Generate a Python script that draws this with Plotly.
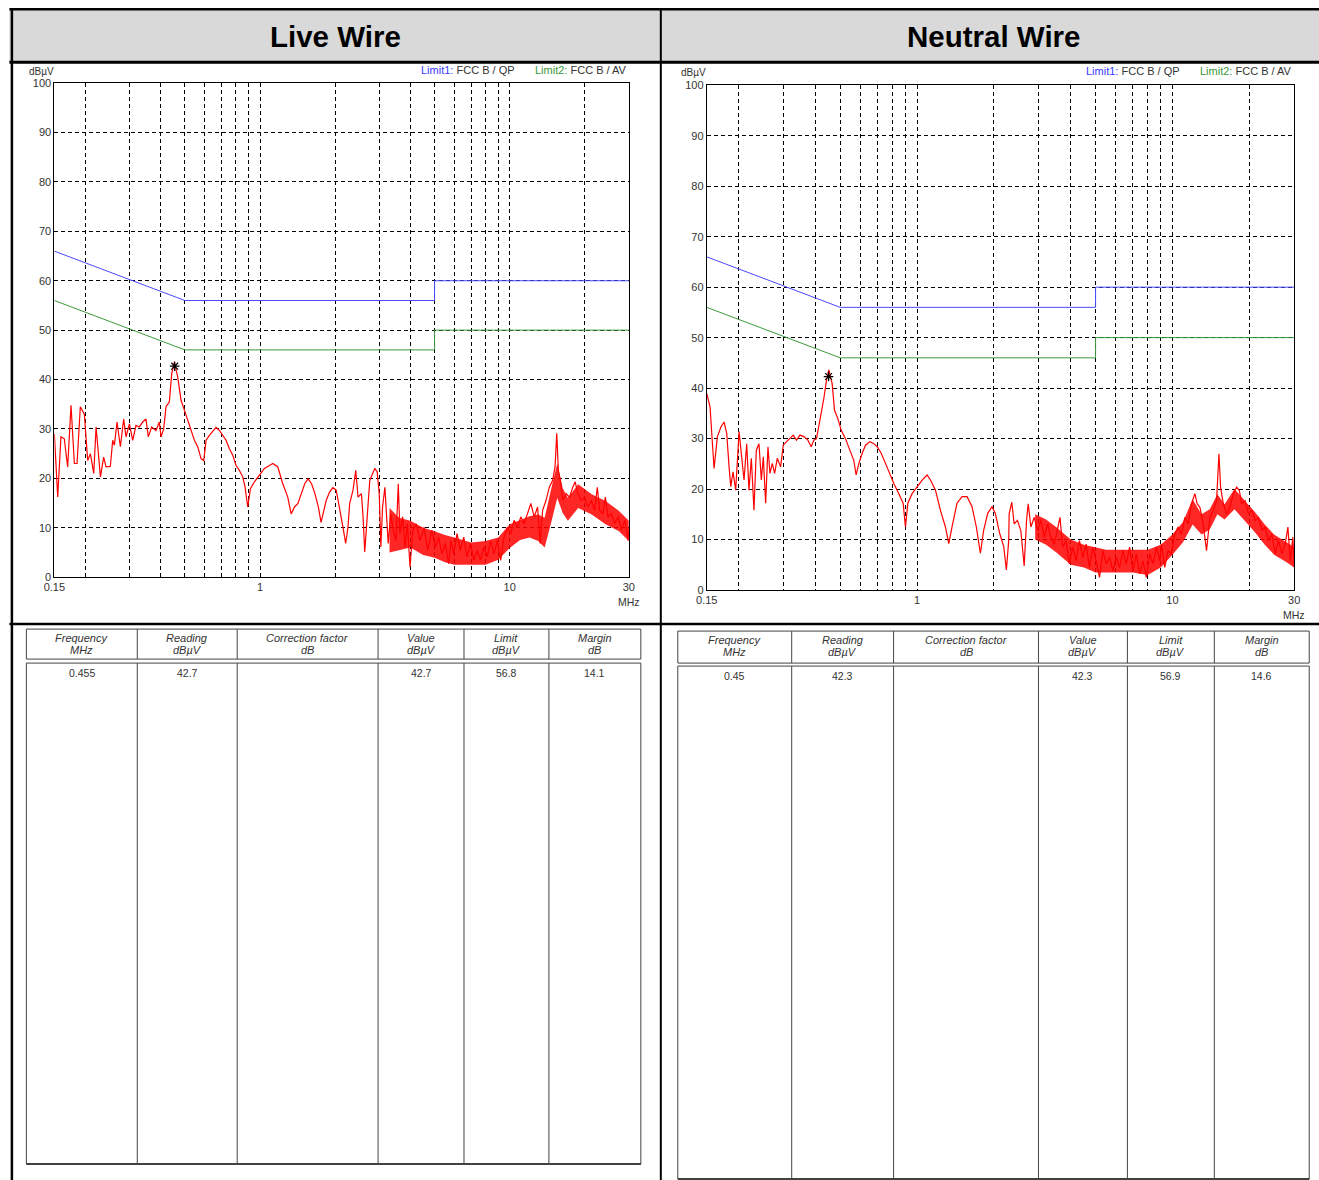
import math
import plotly.graph_objects as go

# ---------------- data ----------------
x_tick_vals = [0.15, 1, 10, 30]
x_tick_text = ["0.15", "1", "10", "30"]
x_grid_vals = [0.2, 0.3, 0.4, 0.5, 0.6, 0.7, 0.8, 0.9, 1, 2, 3, 4, 5, 6, 7, 8, 9, 10, 20]

limit_freq = [0.15, 0.5, 5, 5, 30]
limit_qp = [66, 56, 56, 60, 60]
limit_av = [56, 46, 46, 50, 50]

live_freq = [
    0.150, 0.1547, 0.1594, 0.1644, 0.1696, 0.1749, 0.1804, 0.1849, 0.1906, 0.1978,
    0.2040, 0.2091, 0.2157, 0.2204, 0.2294, 0.2364, 0.2415, 0.2514, 0.2569, 0.2609,
    0.2674, 0.2757, 0.2843, 0.2905, 0.2996, 0.3089, 0.3185, 0.3284, 0.3387, 0.3492,
    0.3568, 0.3680, 0.3830, 0.3950, 0.4012, 0.4111, 0.4201, 0.4332, 0.4427, 0.4537,
    0.4680, 0.4826, 0.4977, 0.5131, 0.5292, 0.5457, 0.5627, 0.5803, 0.5948, 0.6078,
    0.6268, 0.6464, 0.6665, 0.6873, 0.7087, 0.7309, 0.7536, 0.7772, 0.8014, 0.8265,
    0.8523, 0.8709, 0.8926, 0.9150, 0.9495, 0.9942, 1.041, 1.090, 1.125, 1.178,
    1.233, 1.291, 1.332, 1.374, 1.418, 1.463, 1.510, 1.558, 1.608, 1.659,
    1.712, 1.755,
    1.784, 1.840, 1.898, 1.957, 2.019, 2.082, 2.148, 2.202, 2.250, 2.285,
    2.357, 2.416, 2.469, 2.546, 2.586, 2.626, 2.684, 2.751, 2.820, 2.882,
    2.945, 3.001, 3.047, 3.095, 3.162, 3.211, 3.261, 3.333, 3.416, 3.502,
    3.578, 3.634, 3.725, 3.807, 3.890, 3.988, 4.089, 4.217, 4.376, 4.543,
    4.685, 4.880, 5.033, 5.190, 5.353, 5.520, 5.692, 5.817, 5.963, 6.152,
    6.344, 6.544, 6.749, 6.962, 7.180, 7.406, 7.640, 7.880, 8.126, 8.385,
    8.647, 8.918, 9.199, 9.488, 9.786, 10.09, 10.41, 10.74, 11.08, 11.42,
    11.78, 12.15, 12.54, 12.93, 13.25, 13.54, 13.97, 14.41, 14.86, 15.19,
    15.43, 15.66, 15.96, 16.31, 16.82, 17.35, 17.89, 18.29, 18.74, 19.33,
    19.94, 20.57, 21.22, 21.88, 22.43, 22.92, 23.64, 24.16, 24.76, 25.55,
    26.35, 27.18, 28.03, 28.91, 29.82, 30.0,
]
live_level = [
    29, 16.2, 28.4, 28, 22.3, 34.8, 23, 23, 34.5, 33,
    23.6, 25, 21, 30.4, 20.3, 24.3, 22.3, 22.4, 27.7, 26.7,
    31.4, 26.4, 32, 28.4, 31, 27.7, 30.7, 30.4, 31.4, 32,
    28.4, 30.4, 29.7, 31.4, 28.4, 30, 34.5, 35.5, 41.2, 43.6,
    40.5, 35.8, 33.8, 31.8, 29.4, 27.7, 26.4, 24, 23.6, 27.7,
    28.7, 29.4, 30.3, 29.7, 28.7, 27.7, 26, 24.7, 22.6, 21.6,
    20.3, 18.2, 14.2, 17.9, 19.3, 20.6, 22, 22.6, 23, 22.3,
    18.9, 16.2, 12.8, 14.2, 14.9, 16.9, 18.9, 19.9, 18.9, 16.9,
    14.2, 11.1,
    12.8, 15.5, 17.2, 18.1, 17.6, 14.2, 10.1, 6.8, 10.1, 14.9,
    17.6, 21.6, 16.2, 16.9, 12.2, 5.1, 12.8, 19.6, 20.9, 22,
    21.3, 16.9, 6.1, 14.2, 18.2, 12.2, 6.8, 12.8, 9.5, 7.4,
    18.9, 8.8, 12.2, 6.1, 10.8, 2, 9.5, 10.8, 7.4, 10.1,
    5.4, 9.5, 6.1, 8.1, 4.7, 6.8, 2.7, 7.4, 4.7, 8.8,
    5.4, 8.1, 4.1, 6.8, 3.4, 5.4, 3.4, 6.1, 4.1, 7.4,
    4.7, 7.4, 3.4, 8.1, 10.1, 8.8, 11.5, 10.1, 12.2, 10.8,
    12.8, 14.9, 12.2, 14.2, 6.8, 13.5, 15.5, 18.2, 19.6, 22.3,
    29.1, 21.6, 19.6, 15.5, 16.9, 16.2, 18.2, 19.3, 16.9, 15.5,
    16.2, 14.2, 15.5, 13.5, 18.2, 13.5, 12.8, 16.2, 12.2, 12.8,
    10.8, 12.2, 9.5, 11.5, 7.4, 10,
]
# dense-noise envelope of the live trace (upper / lower edge of the red band)
live_band_freq = [3.3, 3.6, 4.0, 4.5, 5.0, 5.5, 6.0, 7.0, 8.0, 9.0, 10, 11, 12, 13,
                  13.8, 14.6, 15.5, 16.3, 17.1, 18.8, 21.3, 24.2, 27.4, 30]
live_band_hi = [14, 12, 11.4, 10, 9.3, 8.5, 8, 7, 7.3, 8, 10.7, 11.5, 12.3, 12.7,
                12, 17.5, 23, 18, 16, 18.8, 16.8, 15.4, 13.4, 11.4]
live_band_lo = [5, 5.5, 6, 4.5, 3.9, 3, 2.5, 2.5, 2.5, 3.5, 5.9, 7.5, 8, 7.3,
                6, 10.7, 16, 13, 11.4, 14, 12.7, 10.7, 9.3, 7.3]

neutral_freq = [
    0.150, 0.1545, 0.1569, 0.1602, 0.1651, 0.1704, 0.1753, 0.1796, 0.1834, 0.1862,
    0.1901, 0.1947, 0.2007, 0.2049, 0.2099, 0.2150, 0.2195, 0.2242, 0.2296, 0.2345,
    0.2402, 0.2453, 0.2498, 0.2551, 0.2605, 0.2652, 0.2708, 0.2766, 0.2833, 0.2919,
    0.2990, 0.3081, 0.3175, 0.3271, 0.3371, 0.3473, 0.3601, 0.3733, 0.3847, 0.3940,
    0.4036, 0.4184, 0.4312, 0.4417, 0.4510, 0.4648, 0.4747, 0.4891, 0.5040, 0.5240,
    0.5448, 0.5648, 0.5768, 0.5914, 0.6094, 0.6279, 0.6530, 0.6769, 0.6976, 0.7232,
    0.7519, 0.7818, 0.8105, 0.8478, 0.8815, 0.9002, 0.9193, 0.9558, 1.000, 1.046,
    1.094, 1.128, 1.180, 1.234, 1.291, 1.330, 1.370, 1.433, 1.500, 1.569,
    1.641, 1.706, 1.769, 1.823, 1.890, 1.965, 2.025, 2.106, 2.184, 2.237,
    2.285,
    2.293, 2.349, 2.399, 2.472, 2.548, 2.626, 2.683, 2.723, 2.790, 2.875,
    2.963, 3.054, 3.148, 3.244, 3.344, 3.446, 3.552, 3.627, 3.716, 3.830,
    3.947, 4.068, 4.193, 4.322, 4.455, 4.591, 4.732, 4.877, 5.027, 5.181,
    5.339, 5.502, 5.672, 5.844, 6.023, 6.208, 6.398, 6.594, 6.796, 7.004,
    7.222, 7.439, 7.668, 7.902, 8.145, 8.395, 8.653, 8.917, 9.053, 9.330,
    9.616, 9.910, 10.21, 10.53, 10.85, 11.18, 11.52, 11.88, 12.24, 12.50,
    12.81, 13.20, 13.60, 14.02, 14.45, 14.89, 15.21, 15.44, 15.82, 16.31,
    16.80, 17.32, 17.85, 18.29, 18.68, 19.25, 19.84, 20.45, 21.08, 21.72,
    22.39, 23.07, 23.78, 24.51, 25.26, 26.03, 26.83, 27.65, 28.33, 28.93,
    29.63, 30.0,
]
neutral_level = [
    38.9, 36.3, 31, 24.1, 30.4, 32.3, 33.3, 31, 24.4, 20.5,
    23.4, 19.8, 31.4, 26.4, 21.8, 29, 19.8, 26.1, 15.8, 27.7,
    29, 21.8, 26.4, 17.2, 28.4, 23.1, 25.1, 23.1, 26.1, 24.4,
    28.7, 29.4, 30, 30.7, 29.7, 30.7, 30.4, 29.7, 28.4, 29.7,
    30, 34.3, 38, 41.6, 43.6, 40.9, 35.6, 34, 31.7, 30,
    27.7, 25.7, 22.8, 25.1, 27.1, 28.7, 29.4, 29, 28.4, 27.1,
    25.1, 22.8, 21.1, 19.1, 17.2, 12.5, 17.2, 19.1, 20.5, 21.8,
    22.8, 21.8, 19.8, 15.8, 12.5, 9.2, 12.5, 17.2, 18.5, 18.5,
    16.5, 12.5, 7.3, 11.9, 15.2, 16.5, 15.2, 11.2, 8.6, 4,
    9.9,
    15.1, 17.4, 13.1, 13.8, 11.8, 4.8, 13.8, 17.1, 12.5, 14.4,
    11.8, 13.8, 10.5, 13.1, 10.5, 9.1, 12.5, 14.4, 8.5, 9.8,
    5.2, 8.5, 5.8, 9.8, 6.5, 9.1, 4.5, 8.5, 5.8, 2.5,
    7.8, 5.2, 6.5, 3.8, 6.5, 4.5, 7.8, 5.2, 8.5, 3.8,
    7.2, 3.2, 5.8, 2.5, 7.2, 5.2, 8.5, 5.8, 9.1, 4.5,
    7.8, 7.2, 11.1, 12.5, 11.1, 14.4, 13.1, 17.1, 19.1, 17.1,
    16.4, 13.1, 7.8, 14.4, 15.8, 17.7, 27, 20.4, 17.1, 15.1,
    16.4, 19.1, 20.4, 19.7, 17.1, 17.7, 15.1, 15.8, 13.8, 14.4,
    11.8, 12.5, 9.8, 11.1, 7.2, 9.8, 7.2, 9.1, 12.5, 5.8,
    10.5, 4.5,
]
# dense-noise envelope of the neutral trace
neutral_band_freq = [2.9, 3.2, 3.5, 4.0, 4.5, 5.0, 5.5, 6.0, 7.0, 8.0, 9.0, 10,
                     11, 12, 13, 14, 15, 16, 17.5, 19, 21, 23, 25, 28, 30]
neutral_band_hi = [15, 14, 12.5, 10, 9, 8.5, 8, 8, 8, 8, 9, 11,
                   13.5, 18, 15, 16, 19, 17, 20, 18, 15.5, 13, 11, 9.5, 8.5]
neutral_band_lo = [10, 9, 7.5, 5, 4.5, 3.5, 3.5, 3.5, 3.5, 3, 4.5, 7,
                   9.5, 13, 11, 12, 15, 14, 16, 14, 11.5, 9, 7, 5.5, 4.5]

live_peak_freq = [0.455]
live_peak_level = [42.7]
neutral_peak_freq = [0.45]
neutral_peak_level = [42.3]

table_headers = [
    ("Frequency", "MHz"), ("Reading", "dBµV"), ("Correction factor", "dB"),
    ("Value", "dBµV"), ("Limit", "dBµV"), ("Margin", "dB"),
]
live_row = ["0.455", "42.7", "", "42.7", "56.8", "14.1"]
neutral_row = ["0.45", "42.3", "", "42.3", "56.9", "14.6"]

panel_titles = ["Live Wire", "Neutral Wire"]

# ---------------- layout helpers ----------------
W, H = 1319, 1180
FONT = "Liberation Sans, Arial, sans-serif"
# the photographed page is padded/scaled slightly; positions below are given in
# picture pixels and mapped back to figure pixels here
OX, SX = 9.6, 0.988
OY, SY = 5.8, 0.99


def X(px):
    return ((px - OX) / SX) / W


def Y(py):
    return 1 - ((py - OY) / SY) / H


shapes = []
annotations = []


def line(x0, y0, x1, y1, color="black", width=1):
    shapes.append(dict(type="line", xref="paper", yref="paper",
                       x0=X(x0), y0=Y(y0), x1=X(x1), y1=Y(y1),
                       line=dict(color=color, width=width)))


def rect(x0, y0, x1, y1, color="black", width=1, fill=None):
    d = dict(type="rect", xref="paper", yref="paper",
             x0=X(x0), y0=Y(y0), x1=X(x1), y1=Y(y1),
             line=dict(color=color, width=width), layer="below")
    if fill:
        d["fillcolor"] = fill
    shapes.append(d)


def text(px, py, s, size=10, color="#222", xanchor="center", yanchor="middle"):
    annotations.append(dict(xref="paper", yref="paper", x=X(px), y=Y(py), text=s,
                            showarrow=False, xanchor=xanchor, yanchor=yanchor,
                            font=dict(family=FONT, size=size, color=color)))


# frame
rect(8, 9, 1330, 62, color="black", width=0, fill="#d9d9d9")
line(8, 9, 1330, 9, width=2.5)
line(8, 62, 1330, 62, width=3)
line(8, 624, 1330, 624, width=2.5)
line(10.5, 9, 10.5, 1190, width=2.5)
line(660, 9, 660, 1190, width=2)
text(334, 36, "<b>%s</b>" % panel_titles[0], size=29.5, color="black")
text(993, 36, "<b>%s</b>" % panel_titles[1], size=29.5, color="black")

# panel geometry (picture pixels)
panels = [
    dict(l=53, r=628, t=83, b=577, lab_y=71),
    dict(l=706, r=1294, t=85, b=590, lab_y=72),
]

GRID_DASH = "4px,3px"


def xaxis_def(p, anchor):
    return dict(domain=[X(p["l"]), X(p["r"])], anchor=anchor, type="log",
                range=[math.log10(0.15), math.log10(30)],
                tickmode="array", tickvals=x_tick_vals, ticktext=x_tick_text,
                ticks="", showline=True, linecolor="black", linewidth=1, mirror=True,
                showgrid=True, gridcolor="black", gridwidth=1, griddash=GRID_DASH,
                minor=dict(tickmode="array", tickvals=x_grid_vals, showgrid=True,
                           gridcolor="black", gridwidth=1, griddash=GRID_DASH, ticks=""),
                zeroline=False, tickfont=dict(family=FONT, size=11, color="#333"))


def yaxis_def(p, anchor):
    return dict(domain=[Y(p["b"]), Y(p["t"])], anchor=anchor, range=[0, 100],
                tickmode="linear", tick0=0, dtick=10, ticks="",
                showline=True, linecolor="black", linewidth=1, mirror=True,
                showgrid=True, gridcolor="black", gridwidth=1, griddash=GRID_DASH,
                zeroline=False, tickfont=dict(family=FONT, size=11, color="#333"))


fig = go.Figure()

series = [
    (live_freq, live_level, live_band_freq, live_band_hi, live_band_lo,
     live_peak_freq, live_peak_level, "x", "y"),
    (neutral_freq, neutral_level, neutral_band_freq, neutral_band_hi, neutral_band_lo,
     neutral_peak_freq, neutral_peak_level, "x2", "y2"),
]
for f, v, bf, bh, bl, pf, pv, xa, ya in series:
    fig.add_trace(go.Scatter(x=limit_freq, y=limit_qp, mode="lines", xaxis=xa, yaxis=ya,
                             line=dict(color="#4a4aff", width=1), hoverinfo="skip"))
    fig.add_trace(go.Scatter(x=limit_freq, y=limit_av, mode="lines", xaxis=xa, yaxis=ya,
                             line=dict(color="#3a9a3a", width=1), hoverinfo="skip"))
    fig.add_trace(go.Scatter(x=bf, y=bl, mode="lines", xaxis=xa, yaxis=ya,
                             line=dict(color="rgba(255,0,0,0)", width=0),
                             hoverinfo="skip"))
    fig.add_trace(go.Scatter(x=bf, y=bh, mode="lines", xaxis=xa, yaxis=ya, fill="tonexty",
                             fillcolor="rgba(255,0,0,0.85)",
                             line=dict(color="rgba(255,0,0,0)", width=0),
                             hoverinfo="skip"))
    fig.add_trace(go.Scatter(x=f, y=v, mode="lines", xaxis=xa, yaxis=ya,
                             line=dict(color="#ff0000", width=1.2)))
    fig.add_trace(go.Scatter(x=pf, y=pv, mode="markers", xaxis=xa, yaxis=ya,
                             marker=dict(symbol="asterisk-open", size=8, color="black",
                                         line=dict(color="black", width=1.2))))

# axis labels and limit legends
for p in panels:
    text(p["l"] - 13, p["lab_y"], "dBµV", size=10, color="#333")
    text(p["r"], p["b"] + 25, "MHz", size=10.5, color="#333")
    text(p["r"], p["lab_y"] - 1,
         '<span style="color:#3a9a3a">Limit2:</span> FCC B / AV',
         size=11, color="#333", xanchor="right")
    text(p["r"] - 112, p["lab_y"] - 1,
         '<span style="color:#3a3aff">Limit1:</span> FCC B / QP',
         size=11, color="#333", xanchor="right")

# tables
tables = [
    dict(cols=[25, 136, 236, 377, 463, 548, 640], ht=629, hb=659, bt=663, bb=1164,
         row=live_row, h1=638, h2=650, ry=673),
    dict(cols=[677, 791, 893, 1038, 1127, 1214, 1309], ht=631, hb=663, bt=666, bb=1179,
         row=neutral_row, h1=640, h2=652, ry=676),
]
for t in tables:
    c = t["cols"]
    rect(c[0], t["ht"], c[-1], t["hb"], color="#444", width=1)
    rect(c[0], t["bt"], c[-1], t["bb"], color="#444", width=1)
    line(c[0], t["bb"], c[-1], t["bb"], color="#222", width=1.5)
    for cx in c[1:-1]:
        line(cx, t["ht"], cx, t["hb"], color="#444", width=1)
        line(cx, t["bt"], cx, t["bb"], color="#444", width=1)
    for i, (a, b) in enumerate(table_headers):
        cx = (c[i] + c[i + 1]) / 2
        text(cx, t["h1"], "<i>%s</i>" % a, size=11, color="#333")
        text(cx, t["h2"], "<i>%s</i>" % b, size=11, color="#333")
        if t["row"][i]:
            text(cx, t["ry"], t["row"][i], size=10.5, color="#333")

fig.update_layout(
    width=W, height=H, margin=dict(l=0, r=0, t=0, b=0),
    paper_bgcolor="white", plot_bgcolor="white", showlegend=False,
    xaxis=xaxis_def(panels[0], "y"), yaxis=yaxis_def(panels[0], "x"),
    xaxis2=xaxis_def(panels[1], "y2"), yaxis2=yaxis_def(panels[1], "x2"),
    shapes=shapes, annotations=annotations,
    font=dict(family=FONT),
)

fig.write_html("out.html", config={"displayModeBar": False},
               post_script="document.body.style.margin='0';"
                           "document.body.style.overflow='hidden';")
